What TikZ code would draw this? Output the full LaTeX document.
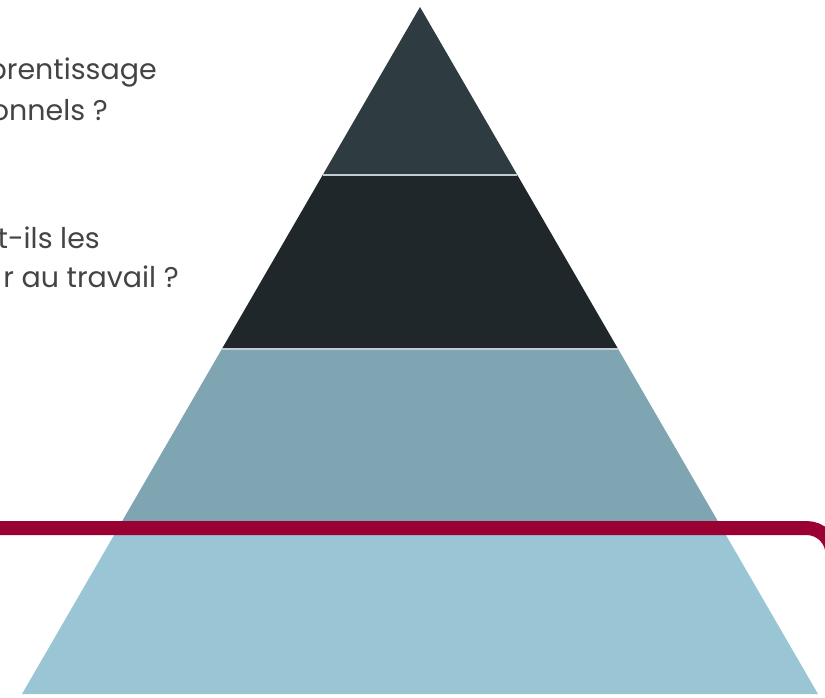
\documentclass[tikz,border=0pt]{standalone}
\usepackage{fontspec}
\setmainfont{Poppins}
\usetikzlibrary{calc}
\definecolor{layerA}{HTML}{2E3B40}
\definecolor{layerB}{HTML}{20272B}
\definecolor{layerC}{HTML}{7FA4B2}
\definecolor{layerD}{HTML}{99C5D4}
\definecolor{sepcol}{HTML}{C3CDD0}
\definecolor{redline}{HTML}{9B0033}
\definecolor{textcol}{HTML}{444444}
\begin{document}
\begin{tikzpicture}[x=1pt,y=-1pt,
  sep/.style={draw=sepcol,line width=2pt},
  lbl/.style={anchor=base east,inner sep=0pt,text=textcol,font=\fontsize{28.5}{40}\selectfont},
  highlight/.style={draw=redline,line width=14pt,rounded corners=26pt}]
\useasboundingbox (0,0) rectangle (825,697);
\clip (0,0) rectangle (825,697);
\coordinate (A) at (420,7);
\coordinate (BL) at (22,694);
\coordinate (BR) at (818,694);
\coordinate (L1) at ($(A)!0.2445!(BL)$);
\coordinate (R1) at ($(A)!0.2445!(BR)$);
\coordinate (L2) at ($(A)!0.4978!(BL)$);
\coordinate (R2) at ($(A)!0.4978!(BR)$);
\coordinate (L3) at ($(A)!0.754!(BL)$);
\coordinate (R3) at ($(A)!0.754!(BR)$);
\fill[layerA] (A) -- (R1) -- (L1) -- cycle;
\fill[layerB] (L1) -- (R1) -- (R2) -- (L2) -- cycle;
\fill[layerC] (L2) -- (R2) -- (R3) -- (L3) -- cycle;
\fill[layerD] (L3) -- (R3) -- (BR) -- (BL) -- cycle;
\draw[sep] (L1) -- (R1);
\draw[sep] (L2) -- (R2);
\draw[sep] (L3) -- (R3);
\node[lbl] (t1) at (157,79) {prentissage};
\node[lbl] (t2) at (108,120) {onnels ?};
\node[lbl] (t3) at (100,248) {t-ils les};
\node[lbl] (t4) at (179,287) {r au travail ?};
\coordinate (H0) at (-20,528);
\coordinate (H1) at (832.5,528);
\coordinate (H2) at (832.5,740);
\draw[highlight] (H0) -- (H1) -- (H2);
\end{tikzpicture}
\end{document}
